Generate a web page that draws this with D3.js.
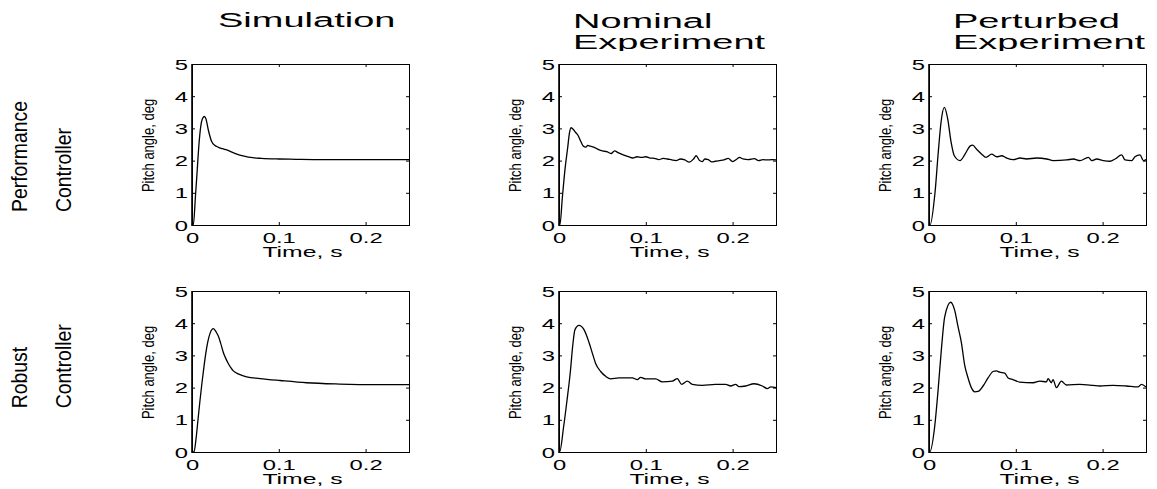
<!DOCTYPE html>
<html>
<head>
<meta charset="utf-8">
<script src="https://cdn.jsdelivr.net/npm/d3@7"></script>
<style>
  html, body { margin: 0; padding: 0; background: #fff; }
  svg { display: block; font-family: "Liberation Sans", Arial, Helvetica, sans-serif; }
</style>
</head>
<body>
<svg id="chart" width="1157" height="489"></svg>
<script>
// ---- Axis ticks -------------------------------------------------------
const xTicks = [0, 0.1, 0.2];
const xTickLabels = ["0", "0.1", "0.2"];
const yTicks = [0, 1, 2, 3, 4, 5];

// ---- Labels -----------------------------------------------------------
const columnTitles = [["Simulation"], ["Nominal", "Experiment"], ["Perturbed", "Experiment"]];
const rowTitles = [["Performance", "Controller"], ["Robust", "Controller"]];
const xLabel = "Time, s";
const yLabel = "Pitch angle, deg";

// ---- Performance controller: pitch response (time s, angle deg) -------
const simPerfT = [0, 0.0015, 0.004, 0.006, 0.008, 0.010, 0.012, 0.0142, 0.016, 0.0188, 0.0225, 0.0265, 0.030, 0.035, 0.040, 0.050, 0.060, 0.070, 0.080, 0.100, 0.120, 0.150, 0.200, 0.250];
const simPerfY = [0, 0, 0.9, 1.7, 2.5, 3.05, 3.3, 3.37, 3.3, 2.95, 2.6, 2.47, 2.42, 2.37, 2.33, 2.22, 2.14, 2.09, 2.07, 2.05, 2.04, 2.03, 2.03, 2.03];

const nomPerfT = [0, 0.001, 0.004, 0.007, 0.010, 0.012, 0.0138, 0.016, 0.019, 0.022, 0.025, 0.028, 0.031, 0.033, 0.036, 0.040, 0.045, 0.050, 0.055, 0.060, 0.064, 0.068, 0.074, 0.080, 0.085, 0.090, 0.095, 0.100, 0.105, 0.110, 0.115, 0.120, 0.125, 0.130, 0.135, 0.140, 0.145, 0.150, 0.155, 0.158, 0.162, 0.165, 0.168, 0.172, 0.176, 0.180, 0.185, 0.190, 0.195, 0.200, 0.205, 0.208, 0.212, 0.218, 0.225, 0.230, 0.235, 0.240, 0.245, 0.250];
const nomPerfY = [0, 0, 0.9, 1.75, 2.4, 2.85, 3.02, 2.98, 2.88, 2.78, 2.6, 2.45, 2.42, 2.47, 2.45, 2.42, 2.35, 2.3, 2.28, 2.22, 2.3, 2.25, 2.18, 2.12, 2.08, 2.12, 2.1, 2.12, 2.08, 2.07, 2.03, 2.07, 2.05, 2.02, 2.0, 2.05, 2.02, 1.95, 2.05, 2.15, 2.0, 1.97, 2.05, 2.03, 1.96, 1.98, 2.0, 2.02, 2.07, 1.97, 2.05, 2.1, 2.05, 2.03, 2.06, 2.0, 2.03, 2.02, 2.03, 2.02];

const pertPerfT = [0, 0.0012, 0.0069, 0.0108, 0.0139, 0.0177, 0.0215, 0.0253, 0.0292, 0.0357, 0.0415, 0.0472, 0.0503, 0.0549, 0.0607, 0.0657, 0.0722, 0.0780, 0.0837, 0.0895, 0.0972, 0.1048, 0.1125, 0.1240, 0.1356, 0.1432, 0.1586, 0.1663, 0.1740, 0.1836, 0.1874, 0.1932, 0.2009, 0.2086, 0.2143, 0.2220, 0.2258, 0.2335, 0.2373, 0.2431, 0.2470, 0.2500];
const pertPerfY = [0, 0, 1.0, 2.3, 3.2, 3.65, 3.3, 2.6, 2.15, 2.0, 2.2, 2.45, 2.48, 2.35, 2.2, 2.1, 2.2, 2.12, 2.15, 2.08, 2.03, 2.08, 2.05, 2.08, 2.05, 2.0, 2.02, 2.05, 2.0, 2.1, 2.0, 2.05, 2.0, 1.98, 2.05, 2.18, 2.02, 2.0, 2.12, 2.18, 2.0, 2.03];

// ---- Robust controller: pitch response (time s, angle deg) ------------
const simRobT = [0, 0.0023, 0.0046, 0.0069, 0.0092, 0.0115, 0.0138, 0.0161, 0.0180, 0.0210, 0.0245, 0.0280, 0.0303, 0.0330, 0.0360, 0.0390, 0.0418, 0.0447, 0.0476, 0.0515, 0.0553, 0.0630, 0.0783, 0.1014, 0.1320, 0.1700, 0.2090, 0.2500];
const simRobY = [0, 0, 0.4, 1.0, 1.6, 2.15, 2.65, 3.1, 3.4, 3.7, 3.83, 3.72, 3.6, 3.38, 3.1, 2.9, 2.75, 2.62, 2.52, 2.45, 2.4, 2.33, 2.28, 2.22, 2.15, 2.11, 2.09, 2.09];

const nomRobT = [0, 0.0007, 0.0054, 0.0092, 0.0131, 0.0158, 0.0184, 0.0230, 0.0288, 0.0346, 0.0392, 0.0422, 0.0480, 0.0538, 0.0595, 0.0691, 0.0845, 0.0902, 0.0940, 0.0998, 0.1113, 0.1190, 0.1306, 0.1363, 0.1413, 0.1478, 0.1536, 0.1651, 0.1804, 0.1920, 0.1978, 0.2035, 0.2074, 0.2150, 0.2247, 0.2343, 0.2400, 0.2440, 0.2500];
const nomRobY = [0, 0, 0.8, 1.6, 2.5, 3.3, 3.8, 3.93, 3.8, 3.4, 3.0, 2.75, 2.5, 2.35, 2.27, 2.3, 2.3, 2.25, 2.32, 2.27, 2.27, 2.18, 2.2, 2.28, 2.1, 2.2, 2.1, 2.07, 2.1, 2.1, 2.05, 2.1, 2.03, 2.05, 2.12, 2.05, 1.97, 2.02, 2.0];

const pertRobT = [0, 0.0008, 0.0066, 0.0104, 0.0143, 0.0181, 0.0250, 0.0296, 0.0334, 0.0373, 0.0411, 0.0450, 0.0488, 0.0527, 0.0565, 0.0623, 0.0680, 0.0738, 0.0776, 0.0814, 0.0872, 0.0911, 0.0968, 0.1045, 0.1199, 0.1276, 0.1353, 0.1372, 0.1410, 0.1429, 0.1468, 0.1525, 0.1583, 0.1736, 0.1890, 0.1967, 0.2120, 0.2274, 0.2408, 0.2447, 0.2500];
const pertRobY = [0, 0, 0.8, 1.9, 3.2, 4.2, 4.65, 4.4, 3.9, 3.4, 2.7, 2.3, 2.0, 1.87, 1.88, 2.05, 2.3, 2.5, 2.52, 2.48, 2.45, 2.3, 2.25, 2.17, 2.15, 2.2, 2.18, 2.28, 2.15, 2.25, 2.0, 2.2, 2.08, 2.1, 2.07, 2.05, 2.07, 2.05, 2.02, 2.1, 2.02];

// Grid of panels: rows = controllers, columns = simulation / experiments
const panels = [
  [[simPerfT, simPerfY], [nomPerfT, nomPerfY], [pertPerfT, pertPerfY]],
  [[simRobT, simRobY], [nomRobT, nomRobY], [pertRobT, pertRobY]]
];

// ---- Layout -------------------------------------------------------------
const svg = d3.select("#chart");
const colLeft = [192, 559, 929];
const rowTop = [64, 291];
const pw = 217, ph = 161;
const fontTick = 14, tickStretch = 1.7;

const x = d3.scaleLinear().domain([0, 0.25]).range([0, pw]);
const y = d3.scaleLinear().domain([0, 5]).range([ph, 0]);

const line = d3.line()
  .x((d) => x(d[0]))
  .y((d) => y(d[1]))
  .curve(d3.curveMonotoneX);

svg.append("rect").attr("width", 1157).attr("height", 489).attr("fill", "#fff");

// Column titles (clipped just under the second line)
svg.append("defs").append("clipPath").attr("id", "titleClip")
  .append("rect").attr("x", 0).attr("y", 0).attr("width", 1157).attr("height", 51);
const titleG = svg.append("g").attr("clip-path", "url(#titleClip)");
const titleX = [218, 573, 953];
const titleBase = [[27], [28.3, 49.3], [27.7, 49]];
columnTitles.forEach((lines, c) => {
  lines.forEach((txt, i) => {
    titleG.append("text")
      .attr("transform", `translate(${titleX[c]},${titleBase[c][i]}) scale(1.9,1)`)
      .attr("font-size", 20)
      .attr("fill", "#000")
      .text(txt);
  });
});

// Row titles, rotated and reading upward
const rowStart = [212, 408.3];
const rowBase = [26.5, 70.6];
rowTitles.forEach((lines, r) => {
  lines.forEach((txt, i) => {
    svg.append("text")
      .attr("transform", `translate(${rowBase[i]},${rowStart[r]}) rotate(-90) scale(0.97,1.08)`)
      .attr("font-size", 20)
      .attr("text-anchor", "start")
      .attr("fill", "#000")
      .text(txt);
  });
});

// Panels
panels.forEach((row, r) => {
  row.forEach((series, c) => {
    const g = svg.append("g").attr("transform", `translate(${colLeft[c]},${rowTop[r]})`);

    // inward ticks on all four sides
    const bottom = g.append("g").attr("transform", `translate(0,${ph})`)
      .call(d3.axisBottom(x).tickValues(xTicks).tickSizeInner(-3).tickSizeOuter(0)
        .tickFormat((d, i) => xTickLabels[i]));
    bottom.selectAll("text")
      .attr("y", 0).attr("dy", 0)
      .attr("transform", `translate(0,18) scale(${tickStretch},1)`)
      .attr("font-size", fontTick).attr("font-family", null).attr("fill", "#000");

    g.append("g").call(d3.axisTop(x).tickValues(xTicks).tickSizeInner(-3).tickSizeOuter(0).tickFormat(""));

    const left = g.append("g")
      .call(d3.axisLeft(y).tickValues(yTicks).tickSizeInner(-3).tickSizeOuter(0).tickFormat(d3.format("d")));
    left.selectAll("text")
      .attr("x", 0).attr("dy", "0.36em")
      .attr("transform", `translate(-4,0) scale(${tickStretch},1)`)
      .attr("font-size", fontTick).attr("font-family", null).attr("fill", "#000");

    g.append("g").attr("transform", `translate(${pw},0)`)
      .call(d3.axisRight(y).tickValues(yTicks).tickSizeInner(-3).tickSizeOuter(0).tickFormat(""));

    g.selectAll(".domain").remove();
    g.selectAll(".tick line").attr("stroke", "#000").attr("stroke-width", 1);

    // axes box
    g.append("rect")
      .attr("x", 0.5).attr("y", 0.5).attr("width", pw).attr("height", ph)
      .attr("fill", "none").attr("stroke", "#000").attr("stroke-width", 1);
    g.append("line")
      .attr("x1", 0).attr("x2", 0).attr("y1", 0).attr("y2", ph + 1)
      .attr("stroke", "#000").attr("stroke-width", 1.6);

    // response curve
    const [ts, vs] = series;
    const pts = ts.map((t, i) => [t, vs[i]]);
    g.append("path")
      .datum(pts)
      .attr("d", line)
      .attr("fill", "none")
      .attr("stroke", "#000")
      .attr("stroke-width", 1.3)
      .attr("stroke-linejoin", "round");

    // axis labels
    g.append("text")
      .attr("transform", `translate(${pw / 2 + 2},${ph + 32}) scale(1.65,1)`)
      .attr("text-anchor", "middle")
      .attr("font-size", 15)
      .attr("fill", "#000")
      .text(xLabel);

    g.append("text")
      .attr("transform", `translate(-38,${ph / 2 + 1}) rotate(-90) scale(1,1.22)`)
      .attr("text-anchor", "middle")
      .attr("font-size", 13)
      .attr("fill", "#000")
      .text(yLabel);
  });
});
</script>
</body>
</html>
